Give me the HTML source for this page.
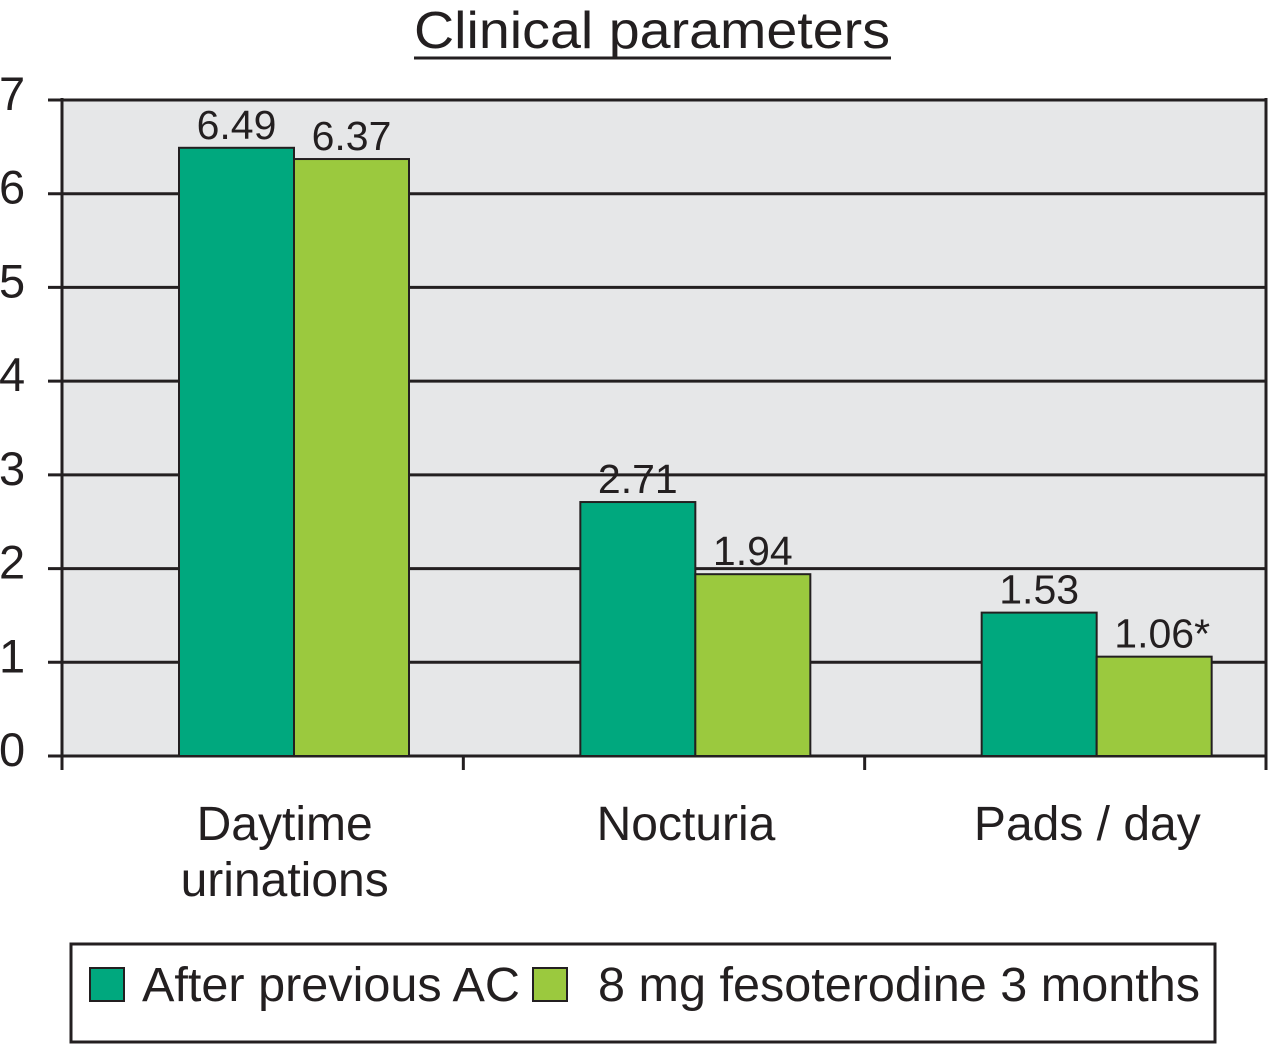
<!DOCTYPE html>
<html><head><meta charset="utf-8"><style>
html,body{margin:0;padding:0;background:#fff;}
svg{display:block;font-family:"Liberation Sans",Arial,sans-serif;}
</style></head><body>
<svg id="chart" width="1268" height="1044" viewBox="0 0 1268 1044">
<text x="414" y="48" font-size="52" textLength="476" lengthAdjust="spacingAndGlyphs" fill="#231f20">Clinical parameters</text>
<line x1="414" y1="58" x2="891" y2="58" stroke="#231f20" stroke-width="3"/>
<rect x="62" y="100" width="1204" height="656" fill="#e6e7e8"/>
<g id="grid"></g>
<g id="bars"></g>
<g id="axes"></g>
<g>
<rect x="71" y="944" width="1144" height="98" fill="#fff" stroke="#231f20" stroke-width="3"/>
<rect x="90" y="968" width="34" height="33" fill="#00a87e" stroke="#231f20" stroke-width="2"/>
<text x="142" y="1001" font-size="48" textLength="378" lengthAdjust="spacingAndGlyphs" fill="#231f20">After previous AC</text>
<rect x="533" y="968" width="34" height="33" fill="#9bc93e" stroke="#231f20" stroke-width="2"/>
<text x="598" y="1001" font-size="48" textLength="602" lengthAdjust="spacingAndGlyphs" fill="#231f20">8 mg fesoterodine 3 months</text>
</g>
</svg>
<script>
const categories = [["Daytime","urinations"],["Nocturia"],["Pads / day"]];
const seriesAfter = [6.49, 2.71, 1.53];
const seriesFeso = [6.37, 1.94, 1.06];
const labelsAfter = ["6.49","2.71","1.53"];
const labelsFeso = ["6.37","1.94","1.06*"];
const yTicks = [0,1,2,3,4,5,6,7];

const NS="http://www.w3.org/2000/svg";
const X0=62, X1=1266, Y0=756, Y1=100, YMAX=7;
const catW=(X1-X0)/categories.length;
function y(v){return Y0-(v/YMAX)*(Y0-Y1);}
function catX(i){return X0+i*catW;}
function mk(tag,attrs,parent){const e=document.createElementNS(NS,tag);for(const k in attrs)e.setAttribute(k,attrs[k]);parent.appendChild(e);return e;}
const grid=document.getElementById('grid'),bars=document.getElementById('bars'),axes=document.getElementById('axes');

yTicks.forEach(t=>{
  const g=mk('line',{x1:48,x2:X1,y1:y(t),y2:y(t),stroke:'#231f20','stroke-width':3},grid);
  
  
  const l=mk('text',{x:-1,y:y(t)+10,'font-size':47,fill:'#231f20'},axes);
  l.textContent=t;
  
  
});

const series=[[seriesAfter,labelsAfter,'#00a87e','after-previous-ac'],[seriesFeso,labelsFeso,'#9bc93e','fesoterodine']];
categories.forEach((c,i)=>{
  series.forEach((s,j)=>{
    const bx=catX(i)+117+j*115, v=s[0][i];
    const r=mk('rect',{x:bx,y:y(v),width:115,height:Y0-y(v),fill:s[2],stroke:'#231f20','stroke-width':2},bars);
    
    
    const t=mk('text',{x:bx+57.5+(j==1&&i==2?8:0),y:y(v)-9,'font-size':41,'text-anchor':'middle',fill:'#231f20'},bars);
    t.textContent=s[1][i];
    
    
  });
  c.forEach((line,k)=>{
    const t=mk('text',{x:catX(i)+catW/2+22,y:840+k*56,'font-size':48,'text-anchor':'middle',fill:'#231f20'},axes);
    t.textContent=line;
    
    
  });
});
const ya=mk('line',{x1:X0,x2:X0,y1:Y1-2,y2:770,stroke:'#231f20','stroke-width':3},axes);


const yr=mk('line',{x1:X1,x2:X1,y1:Y1-2,y2:770,stroke:'#231f20','stroke-width':3},axes);


for(let i=1;i<categories.length;i++){
  const tk=mk('line',{x1:catX(i),x2:catX(i),y1:Y0,y2:770,stroke:'#231f20','stroke-width':3},axes);
  
  
}
</script>
</body></html>
